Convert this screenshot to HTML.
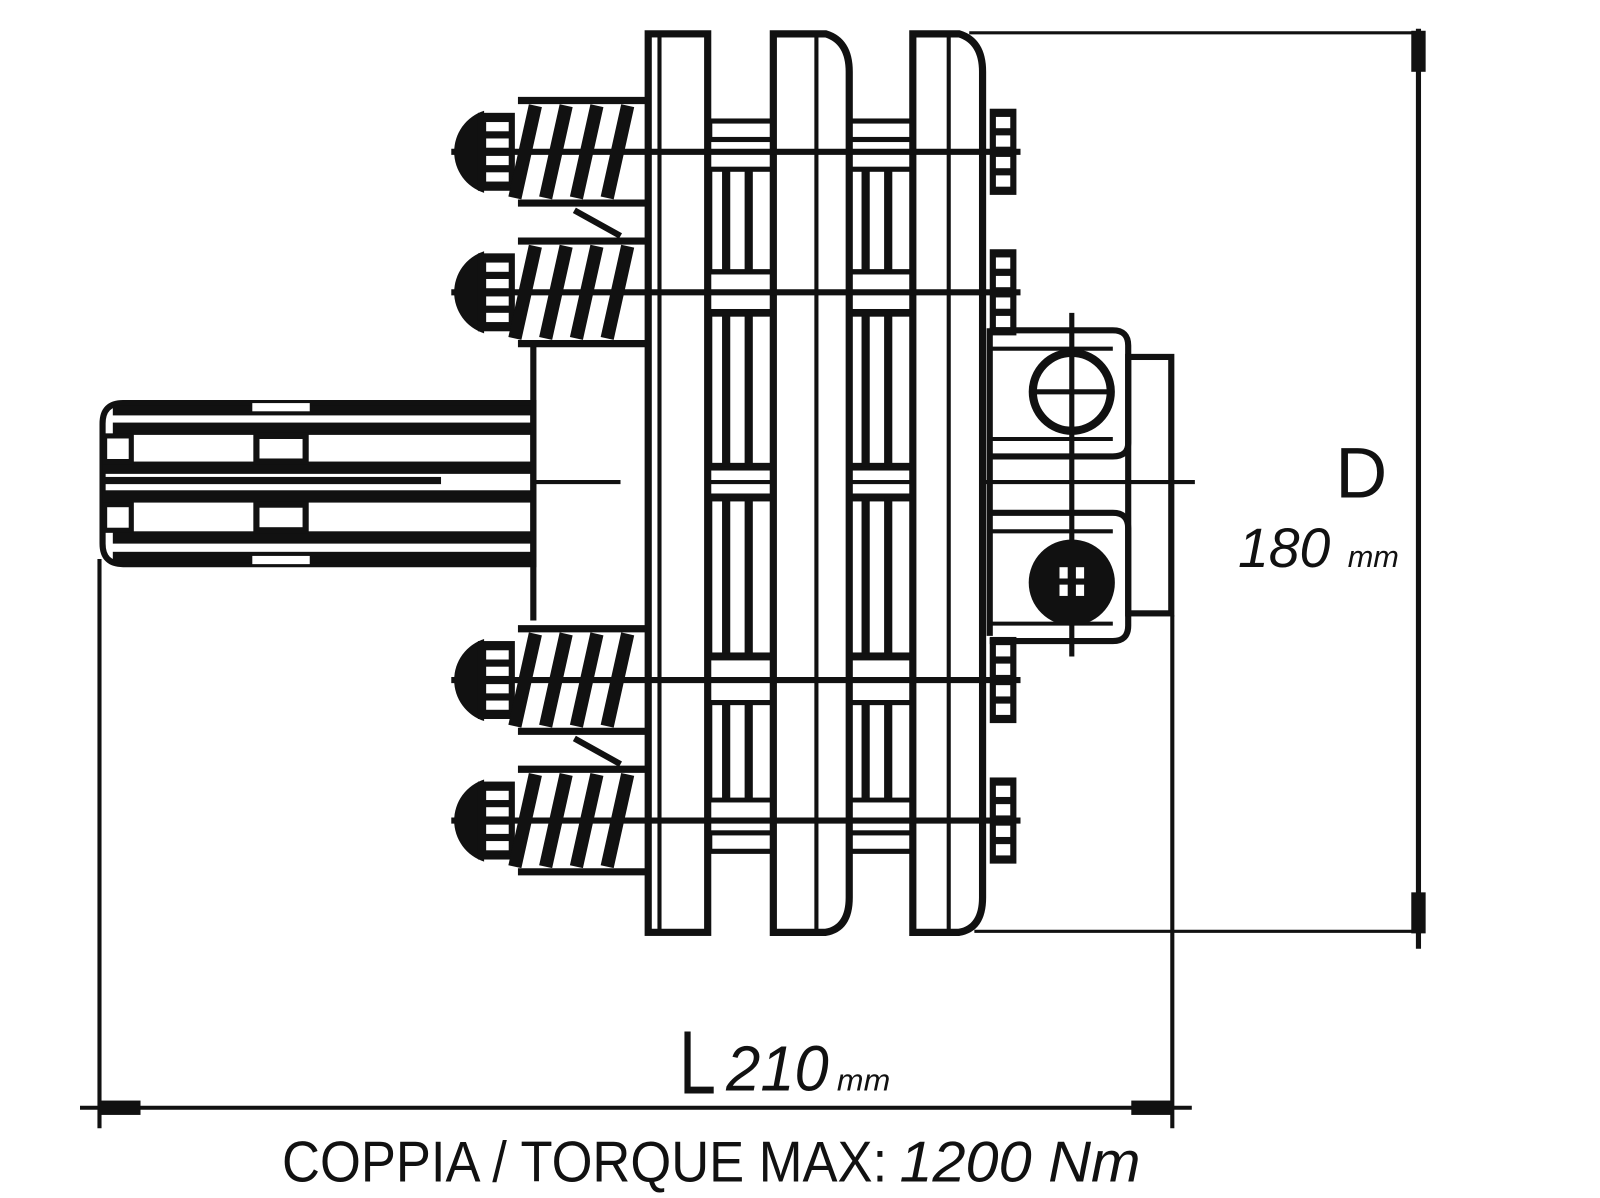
<!DOCTYPE html>
<html><head><meta charset="utf-8"><style>
html,body{margin:0;padding:0;background:#fff;}
svg{display:block;}
text{font-family:"Liberation Sans",sans-serif;fill:#111;}
</style></head><body>
<svg width="1600" height="1198" viewBox="0 0 1560 1168" preserveAspectRatio="none" xmlns="http://www.w3.org/2000/svg">
<defs>
  <g id="spring">
    <path d="M472,-40 A42,42 0 0 0 472,40 Z" fill="#111"/>
    <rect x="466" y="-38" width="36" height="76" fill="#111"/>
    <rect x="474" y="-29" width="22" height="9" fill="#fff"/>
    <rect x="474" y="-13" width="22" height="9" fill="#fff"/>
    <rect x="474" y="4" width="22" height="9" fill="#fff"/>
    <rect x="474" y="20" width="22" height="9" fill="#fff"/>
    <line x1="505" y1="-50" x2="630" y2="-50" stroke="#111" stroke-width="7"/>
    <line x1="505" y1="50" x2="630" y2="50" stroke="#111" stroke-width="7"/>
    <g stroke="#111" stroke-width="13">
      <line x1="502" y1="45" x2="522" y2="-45"/>
      <line x1="532" y1="45" x2="552" y2="-45"/>
      <line x1="562" y1="45" x2="582" y2="-45"/>
      <line x1="592" y1="45" x2="612" y2="-45"/>
    </g>
  </g>
  <g id="rnut">
    <rect x="965" y="-42" width="26" height="84" fill="#111"/>
    <rect x="971" y="-34" width="14" height="11" fill="#fff"/>
    <rect x="971" y="-16" width="14" height="11" fill="#fff"/>
    <rect x="971" y="5" width="14" height="11" fill="#fff"/>
    <rect x="971" y="23" width="14" height="11" fill="#fff"/>
  </g>
  <g id="spacer">
    <rect x="0" y="0" width="62" height="100" fill="none" stroke="#111" stroke-width="5"/>
    <rect x="12" y="0" width="8" height="100" fill="#111"/>
    <rect x="34" y="0" width="8" height="100" fill="#111"/>
  </g>
</defs>

<!-- dimension D -->
<g stroke="#111" stroke-width="3">
  <line x1="945" y1="32" x2="1385" y2="32"/>
  <line x1="950" y1="908" x2="1385" y2="908"/>
</g>
<line x1="1383" y1="28" x2="1383" y2="925" stroke="#111" stroke-width="5"/>
<rect x="1376" y="30" width="14" height="40" fill="#111"/>
<rect x="1376" y="870" width="14" height="40" fill="#111"/>
<text x="1302" y="485" font-size="70">D</text>
<text x="1207" y="553" font-size="54" font-style="italic">180</text>
<text x="1314" y="553" font-size="30" font-style="italic">mm</text>

<!-- dimension L -->
<g stroke="#111" stroke-width="4">
  <line x1="97" y1="545" x2="97" y2="1100"/>
  <line x1="1143" y1="600" x2="1143" y2="1100"/>
  <line x1="78" y1="1080" x2="1162" y2="1080"/>
</g>
<rect x="97" y="1073" width="40" height="14" fill="#111"/>
<rect x="1103" y="1073" width="40" height="14" fill="#111"/>
<text x="662" y="1066" font-size="88" textLength="36" lengthAdjust="spacingAndGlyphs">L</text>
<text x="708" y="1063" font-size="62" font-style="italic" textLength="100" lengthAdjust="spacingAndGlyphs">210</text>
<text x="816" y="1063" font-size="30" font-style="italic" textLength="52" lengthAdjust="spacingAndGlyphs">mm</text>

<text x="275" y="1152" font-size="56" textLength="590" lengthAdjust="spacingAndGlyphs">COPPIA / TORQUE MAX:</text>
<text x="877" y="1152" font-size="56" font-style="italic" textLength="235" lengthAdjust="spacingAndGlyphs">1200 Nm</text>

<!-- shaft -->
<path d="M120,393 L520,393 L520,550 L120,550 Q100,550 100,530 L100,413 Q100,393 120,393 Z" fill="#fff" stroke="#111" stroke-width="6"/>
<g fill="#111">
  <rect x="110" y="395" width="410" height="10"/>
  <rect x="110" y="412" width="410" height="12"/>
  <rect x="100" y="450" width="420" height="12"/>
  <rect x="100" y="465" width="330" height="7"/>
  <rect x="100" y="478" width="420" height="12"/>
  <rect x="110" y="518" width="410" height="12"/>
  <rect x="110" y="538" width="410" height="10"/>
  <rect x="102" y="425" width="26" height="25" fill="#fff" stroke="#111" stroke-width="5"/>
  <rect x="102" y="492" width="26" height="25" fill="#fff" stroke="#111" stroke-width="5"/>
  <rect x="250" y="425" width="48" height="25" fill="#fff" stroke="#111" stroke-width="6"/>
  <rect x="250" y="492" width="48" height="25" fill="#fff" stroke="#111" stroke-width="6"/>
</g>
<rect x="246" y="393" width="56" height="8" fill="#fff"/>
<rect x="246" y="542" width="56" height="8" fill="#fff"/>
<line x1="520" y1="335" x2="520" y2="605" stroke="#111" stroke-width="6"/>

<!-- center line -->
<line x1="520" y1="470" x2="605" y2="470" stroke="#111" stroke-width="4"/>
<line x1="680" y1="470" x2="1165" y2="470" stroke="#111" stroke-width="4"/>

<!-- spacers -->
<g>
  <use href="#spacer" transform="translate(692,165)"/>
  <use href="#spacer" transform="translate(828,165)"/>
  <use href="#spacer" transform="translate(692,305) scale(1,1.5)"/>
  <use href="#spacer" transform="translate(828,305) scale(1,1.5)"/>
  <use href="#spacer" transform="translate(692,485) scale(1,1.55)"/>
  <use href="#spacer" transform="translate(828,485) scale(1,1.55)"/>
  <use href="#spacer" transform="translate(692,685) scale(1,0.95)"/>
  <use href="#spacer" transform="translate(828,685) scale(1,0.95)"/>
</g>
<g fill="none" stroke="#111" stroke-width="5">
  <rect x="692" y="118" width="62" height="18"/>
  <rect x="828" y="118" width="62" height="18"/>
  <rect x="692" y="812" width="62" height="18"/>
  <rect x="828" y="812" width="62" height="18"/>
  <line x1="692" y1="265" x2="754" y2="265"/><line x1="828" y1="265" x2="890" y2="265"/>
  <line x1="692" y1="305" x2="754" y2="305"/><line x1="828" y1="305" x2="890" y2="305"/>
  <line x1="692" y1="640" x2="754" y2="640"/><line x1="828" y1="640" x2="890" y2="640"/>
  <line x1="692" y1="685" x2="754" y2="685"/><line x1="828" y1="685" x2="890" y2="685"/>
</g>

<!-- plates -->
<g fill="#fff" stroke="#111" stroke-width="7">
  <rect x="632" y="33" width="58" height="876"/>
  <path d="M754,33 L805,33 Q828,40 828,70 L828,875 Q828,905 805,909 L754,909 Z"/>
  <path d="M890,33 L935,33 Q958,40 958,70 L958,875 Q958,905 935,909 L890,909 Z"/>
</g>
<g stroke="#111" stroke-width="4">
  <line x1="643" y1="36" x2="643" y2="906"/>
  <line x1="796" y1="36" x2="796" y2="906"/>
  <line x1="925" y1="36" x2="925" y2="906"/>
</g>

<!-- bolts -->
<g stroke="#111" stroke-width="6">
  <line x1="440" y1="148" x2="995" y2="148"/>
  <line x1="440" y1="285" x2="995" y2="285"/>
  <line x1="440" y1="663" x2="995" y2="663"/>
  <line x1="440" y1="800" x2="995" y2="800"/>
</g>
<use href="#spring" transform="translate(0,148)"/>
<use href="#spring" transform="translate(0,285)"/>
<use href="#spring" transform="translate(0,663)"/>
<use href="#spring" transform="translate(0,800)"/>
<line x1="560" y1="205" x2="605" y2="230" stroke="#111" stroke-width="6"/>
<line x1="560" y1="720" x2="605" y2="745" stroke="#111" stroke-width="6"/>
<use href="#rnut" transform="translate(0,148)"/>
<use href="#rnut" transform="translate(0,285)"/>
<use href="#rnut" transform="translate(0,663)"/>
<use href="#rnut" transform="translate(0,800)"/>

<!-- right hub -->
<g fill="none" stroke="#111" stroke-width="6">
  <line x1="965" y1="320" x2="965" y2="620"/>
  <path d="M965,322 L1085,322 Q1100,322 1100,337 L1100,432 Q1100,445 1085,445 L965,445"/>
  <path d="M965,500 L1085,500 Q1100,500 1100,515 L1100,610 Q1100,625 1085,625 L965,625"/>
  <rect x="1100" y="348" width="42" height="250"/>
  <line x1="965" y1="340" x2="1085" y2="340" stroke-width="4"/>
  <line x1="965" y1="428" x2="1085" y2="428" stroke-width="4"/>
  <line x1="965" y1="518" x2="1085" y2="518" stroke-width="4"/>
  <line x1="965" y1="608" x2="1085" y2="608" stroke-width="4"/>
  <circle cx="1045" cy="382" r="38" stroke-width="8"/>
  <line x1="1045" y1="305" x2="1045" y2="640" stroke-width="5"/>
  <line x1="1005" y1="382" x2="1085" y2="382" stroke-width="5"/>
</g>
<circle cx="1045" cy="568" r="42" fill="#111"/>
<g fill="#fff">
  <rect x="1033" y="553" width="8" height="11"/>
  <rect x="1049" y="553" width="8" height="11"/>
  <rect x="1033" y="570" width="8" height="11"/>
  <rect x="1049" y="570" width="8" height="11"/>
</g>
</svg>
</body></html>
